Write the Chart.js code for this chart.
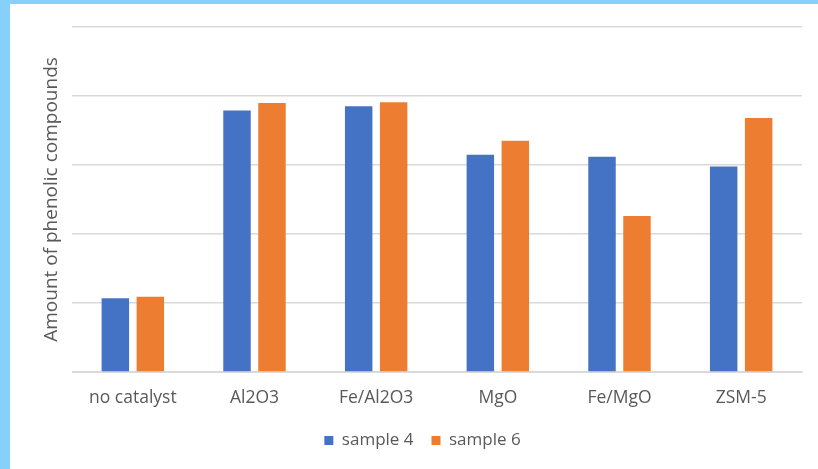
<!DOCTYPE html>
<html>
<head>
<meta charset="utf-8">
<script src="https://cdn.jsdelivr.net/npm/chart.js@4/dist/chart.umd.min.js"></script>
<style>
  html, body { margin: 0; padding: 0; }
  body { width: 818px; height: 469px; background: #85d1fb; position: relative; overflow: hidden; }
  #frame { position: absolute; left: 10px; top: 4px; width: 808px; height: 465px; background: #ffffff; }
  #frame canvas { display: block; }
</style>
</head>
<body>
<div id="frame"><canvas id="chart" width="808" height="465"></canvas></div>
<script>
const categories = ["no catalyst", "Al2O3", "Fe/Al2O3", "MgO", "Fe/MgO", "ZSM-5"];
const sample4 = [1.07, 3.79, 3.85, 3.15, 3.12, 2.98];
const sample6 = [1.09, 3.90, 3.91, 3.35, 2.26, 3.68];
const seriesNames = ["sample 4", "sample 6"];
const axisTitle = "Amount of phenolic compounds";

const textColor = "#595959";
const gridColor = "#d9d9d9";
const font = "'Open Sans', 'Noto Sans', sans-serif";

new Chart(document.getElementById("chart"), {
  type: "bar",
  data: {
    labels: categories,
    datasets: [
      { label: seriesNames[0], data: sample4, backgroundColor: "#4472c4" },
      { label: seriesNames[1], data: sample6, backgroundColor: "#ed7d31" }
    ]
  },
  options: {
    responsive: false,
    animation: false,
    devicePixelRatio: 1,
    categoryPercentage: 0.575,
    barPercentage: 0.785,
    layout: { padding: { top: 23, right: 16, left: 33, bottom: 10 } },
    plugins: {
      tooltip: { enabled: false },
      legend: {
        position: "bottom",
        labels: {
          color: textColor,
          font: { family: font, size: 17 },
          boxWidth: 9,
          boxHeight: 9,
          padding: 18
        }
      }
    },
    scales: {
      x: {
        grid: { display: false },
        border: { color: gridColor, width: 1 },
        ticks: { color: textColor, font: { family: font, size: 17.5 }, padding: 8 },
        afterFit: s => { s.height = 42; }
      },
      y: {
        min: 0,
        max: 5,
        ticks: { display: false, stepSize: 1 },
        grid: { color: gridColor, lineWidth: 1.5, drawTicks: false },
        border: { display: false },
        title: {
          display: true,
          text: axisTitle,
          color: textColor,
          font: { family: font, size: 19 },
          padding: { top: -3, bottom: 0 }
        },
        afterFit: s => { s.width = 29; }
      }
    }
  }
});
</script>
</body>
</html>
